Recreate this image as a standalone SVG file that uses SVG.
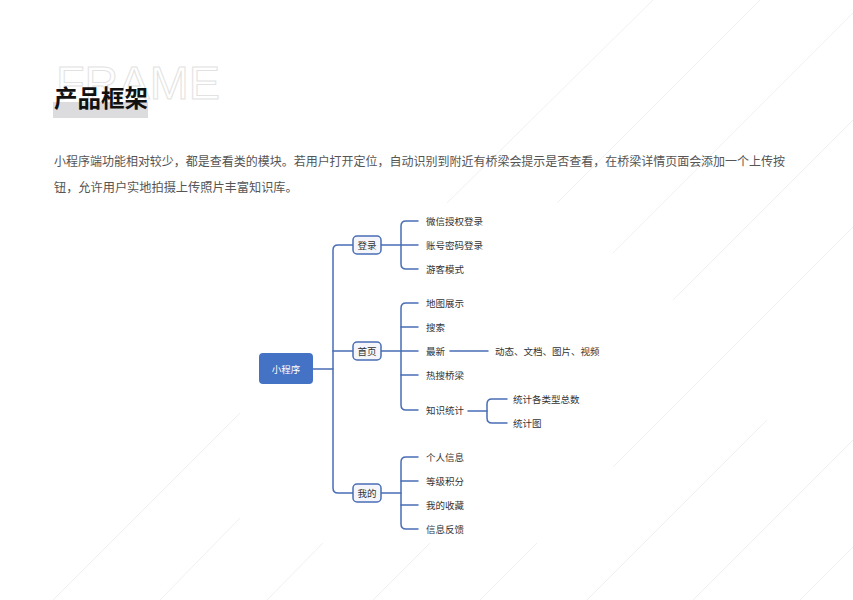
<svg xmlns="http://www.w3.org/2000/svg" width="853" height="600" viewBox="0 0 853 600">
<defs>
<style>
.bg{stroke:#ececec;stroke-width:0.8;fill:none}
.ln{stroke:#4a6eb5;stroke-width:1.5;fill:none;stroke-linecap:round}
.t{font-family:"Noto Sans CJK SC",sans-serif;font-size:9.5px;fill:#333}
.l1 rect{fill:#f4f6fb;stroke:#4a6eb5;stroke-width:1.5}
.p{font-family:"Noto Sans CJK SC",sans-serif;font-size:12.2px;fill:#555}
</style>
</defs>
<rect width="853" height="600" fill="#ffffff"/>
<g id="background">
<line class="bg" x1="53" y1="600" x2="240" y2="413"/>
<line class="bg" x1="160" y1="600" x2="240" y2="518"/>
<line class="bg" x1="267" y1="600" x2="323" y2="543"/>
<line class="bg" x1="373" y1="600" x2="430" y2="543"/>
<line class="bg" x1="480" y1="600" x2="537" y2="543"/>
<line class="bg" x1="587" y1="600" x2="767" y2="420"/>
<line class="bg" x1="693" y1="600" x2="853" y2="440"/>
<line class="bg" x1="800" y1="600" x2="853" y2="547"/>
<line class="bg" x1="613" y1="467" x2="853" y2="227"/>
<line class="bg" x1="447" y1="203" x2="653" y2="0"/>
<line class="bg" x1="557" y1="203" x2="760" y2="0"/>
<line class="bg" x1="613" y1="253" x2="853" y2="13"/>
<line class="bg" x1="673" y1="300" x2="853" y2="120"/>
</g>
<g id="header">
<text x="56" y="99" font-family="Liberation Sans,sans-serif" font-size="47" fill="none" stroke="#e2e2e2" stroke-width="1" textLength="164" lengthAdjust="spacingAndGlyphs">FRAME</text>
<rect x="53" y="102" width="95" height="16" fill="#dcdcdf"/>
<text x="54" y="107" font-family="Noto Sans CJK SC,sans-serif" font-size="23.5" font-weight="bold" fill="#111">产品框架</text>
<text class="p" x="54" y="166" textLength="731" lengthAdjust="spacingAndGlyphs">小程序端功能相对较少，都是查看类的模块。若用户打开定位，自动识别到附近有桥梁会提示是否查看，在桥梁详情页面会添加一个上传按</text>
<text class="p" x="54" y="192">钮，允许用户实地拍摄上传照片丰富知识库。</text>
</g>
<g id="connectors">
<path class="ln" d="M313,369 H333"/>
<path class="ln" d="M353,245 H338 Q333,245 333,250 V488 Q333,493 338,493 H353"/>
<path class="ln" d="M333,351 H353"/>
<path class="ln" d="M381,245 H418"/>
<path class="ln" d="M418,221 H406 Q401,221 401,226 V264 Q401,269 406,269 H418"/>
<path class="ln" d="M381,351 H418"/>
<path class="ln" d="M418,303 H406 Q401,303 401,308 V405 Q401,410 406,410 H418"/>
<path class="ln" d="M401,327 H418"/>
<path class="ln" d="M401,375 H418"/>
<path class="ln" d="M381,493 H401"/>
<path class="ln" d="M418,457 H406 Q401,457 401,462 V524 Q401,529 406,529 H418"/>
<path class="ln" d="M401,481 H418"/>
<path class="ln" d="M401,505 H418"/>
<path class="ln" d="M450,351 H488"/>
<path class="ln" d="M468,411 H487"/>
<path class="ln" d="M507,399 H492 Q487,399 487,404 V418 Q487,423 492,423 H507"/>
</g>
<g id="root">
<rect x="259" y="353" width="54" height="31" rx="4" fill="#4472c4"/>
<text x="286" y="372.5" text-anchor="middle" font-family="Noto Sans CJK SC,sans-serif" font-size="9.5" fill="#ffffff">小程序</text>
</g>
<g id="n-login" class="l1">
<rect x="353" y="236" width="28" height="18" rx="4"/>
<text class="t" x="367" y="248.5" text-anchor="middle">登录</text>
</g>
<g id="n-home" class="l1">
<rect x="353" y="342" width="28" height="18" rx="4"/>
<text class="t" x="367" y="354.5" text-anchor="middle">首页</text>
</g>
<g id="n-mine" class="l1">
<rect x="353" y="484" width="28" height="18" rx="4"/>
<text class="t" x="367" y="496.5" text-anchor="middle">我的</text>
</g>
<g id="n-wx"><text class="t" x="426" y="224.5">微信授权登录</text></g>
<g id="n-acct"><text class="t" x="426" y="248.5">账号密码登录</text></g>
<g id="n-guest"><text class="t" x="426" y="272.5">游客模式</text></g>
<g id="n-map"><text class="t" x="426" y="306.5">地图展示</text></g>
<g id="n-search"><text class="t" x="426" y="330.5">搜索</text></g>
<g id="n-latest"><text class="t" x="426" y="354.5">最新</text></g>
<g id="n-media"><text class="t" x="495" y="354.5">动态、文档、图片、视频</text></g>
<g id="n-hot"><text class="t" x="426" y="378.5">热搜桥梁</text></g>
<g id="n-stats"><text class="t" x="426" y="413.5">知识统计</text></g>
<g id="n-count"><text class="t" x="513" y="402.5">统计各类型总数</text></g>
<g id="n-chart"><text class="t" x="513" y="426.5">统计图</text></g>
<g id="n-info"><text class="t" x="426" y="460.5">个人信息</text></g>
<g id="n-level"><text class="t" x="426" y="484.5">等级积分</text></g>
<g id="n-fav"><text class="t" x="426" y="508.5">我的收藏</text></g>
<g id="n-feedback"><text class="t" x="426" y="532.5">信息反馈</text></g>
</svg>
